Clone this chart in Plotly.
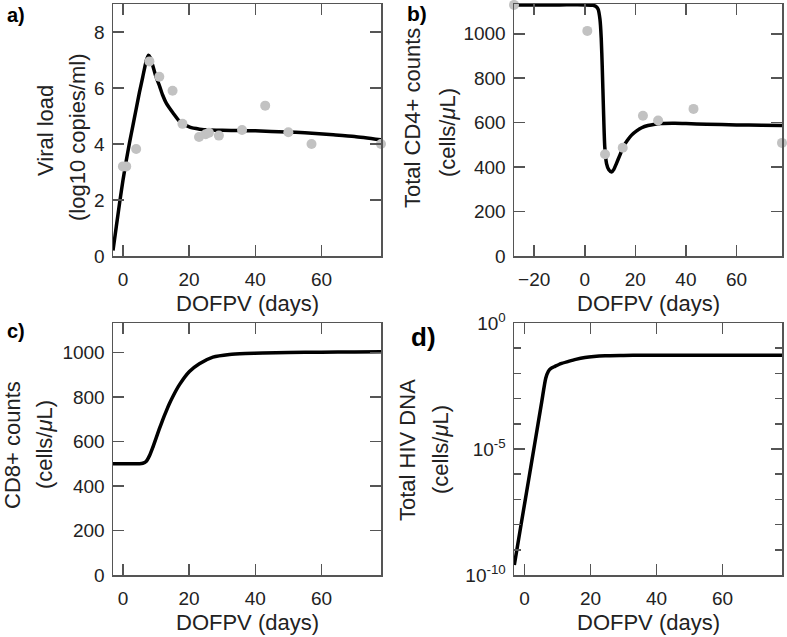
import plotly.graph_objects as go

W, H = 787, 637

# ---------------- data ----------------
# a) viral load (log10 copies/ml)
a_obs_days = [0, 1, 4, 8, 11, 15, 18, 23, 25, 26, 29, 36, 43, 50, 57, 78]
a_obs_vl = [3.2, 3.2, 3.82, 6.95, 6.4, 5.9, 4.72, 4.25, 4.35, 4.4, 4.3, 4.5, 5.37, 4.42, 4.0, 4.0]
a_fit_days = [-3, -2, -1, 0, 1, 2, 3, 4, 5, 6, 7, 7.7, 8.3, 9.1, 10, 11.1, 12, 13.1, 15.2,
              17.2, 20.2, 23.2, 26.2, 30, 35.4, 40, 49.5, 55, 63.6, 70, 78]
a_fit_vl = [0.2, 1.05, 1.9, 2.7, 3.4, 4.05, 4.65, 5.25, 5.85, 6.4, 6.95, 7.17, 7.08, 6.77, 6.4,
            6.06, 5.75, 5.46, 5.1, 4.8, 4.6, 4.53, 4.5, 4.49, 4.48, 4.47, 4.43, 4.4, 4.33, 4.27, 4.15]

# b) total CD4+ counts (cells/uL)
b_obs_days = [-28, 1, 8, 15, 23, 29, 43, 78]
b_obs_cd4 = [1130, 1013, 458, 487, 631, 610, 662, 509]
b_fit_days = [-28, -10, 0, 3.3, 4.5, 5.3, 6.0, 6.5, 6.9, 7.4, 7.9, 8.6, 9.5, 10.6, 11.5, 12.5,
              13.8, 15.2, 16.8, 18.5, 20.5, 22.5, 25, 27.7, 30, 35.6, 40, 48.2, 60, 70, 78]
b_fit_cd4 = [1130, 1130, 1130, 1128, 1122, 1110, 1065, 980, 851, 656, 491, 416, 388, 378, 390,
             416, 452, 491, 520, 544, 563, 577, 587, 593, 596, 597, 596, 593, 590, 588, 587]

# c) CD8+ counts (cells/uL)
c_fit_days = [-3, 0, 5, 6, 7, 8, 9, 10, 11, 12, 13, 14, 15.1, 17.1, 20.1, 23.1, 27.2, 32.2, 37,
              42.3, 50, 60, 70, 78]
c_fit_cd8 = [500, 500, 500, 502, 510, 535, 572, 614, 656, 696, 733, 768, 802, 855, 914, 949,
             979, 991, 995, 997, 999, 1001, 1002, 1003]

# d) total HIV DNA (cells/uL)
d_fit_days = [-3.1, -1, 1.1, 3, 5.2, 6.4, 7.2, 8, 9.2, 11, 13.3, 15.5, 18.3, 21, 24.4, 30,
              35.5, 50, 65, 78]
d_fit_dna = [2.5e-10, 1.1e-8, 4.7e-7, 1.4e-5, 7.4e-4, 6.3e-3, 1.2e-2, 1.58e-2, 1.9e-2,
             2.45e-2, 3.0e-2, 3.6e-2, 4.27e-2, 4.7e-2, 5.0e-2, 5.13e-2, 5.25e-2, 5.25e-2,
             5.25e-2, 5.25e-2]

# tick labels
a_yticks = [0, 2, 4, 6, 8]
ab_xticks_a = [0, 20, 40, 60]
b_xticks = [-20, 0, 20, 40, 60]
cd_yticks = [0, 200, 400, 600, 800, 1000]
d_yticks = [1e-10, 1e-5, 1]
d_yticktext = ["10<sup>-10</sup>", "10<sup>-5</sup>", "10<sup>0</sup>"]
d_minor = [10.0 ** (-k) for k in range(1, 10)]

# ---------------- styling ----------------
FONT = "Liberation Sans, Arial, Helvetica, sans-serif"
TXT = "#222222"
AX = "#555555"
LINE_W = 3.5
DOT = "#c2c2c2"


def px(x):
    return x / W


def py(y):
    return 1 - y / H


fig = go.Figure()

def curve(x, y, xa, ya):
    fig.add_trace(go.Scatter(x=x, y=y, mode="lines", xaxis=xa, yaxis=ya,
                             line=dict(color="black", width=LINE_W, shape="spline", smoothing=0.6),
                             showlegend=False, hoverinfo="skip"))

def dots(x, y, xa, ya):
    fig.add_trace(go.Scatter(x=x, y=y, mode="markers", xaxis=xa, yaxis=ya, cliponaxis=False,
                             marker=dict(color=DOT, size=10, line=dict(width=0)),
                             showlegend=False, hoverinfo="skip"))

curve(a_fit_days, a_fit_vl, "x", "y")
dots(a_obs_days, a_obs_vl, "x", "y")
curve(b_fit_days, b_fit_cd4, "x2", "y2")
dots(b_obs_days, b_obs_cd4, "x2", "y2")
curve(c_fit_days, c_fit_cd8, "x3", "y3")
curve(d_fit_days, d_fit_dna, "x4", "y4")

common = dict(showline=True, linecolor=AX, linewidth=1.5, mirror="ticks", ticks="inside",
              ticklen=11, tickwidth=1.5, tickcolor=AX, showgrid=False, zeroline=False,
              automargin=False,
              tickfont=dict(family=FONT, size=19, color=TXT), tickmode="array")

LX = [px(113), px(381)]
RX = [px(514), px(782)]
TY = [py(256), py(4)]
BY = [py(575), py(323)]

fig.update_layout(
    template="none",
    width=W, height=H, margin=dict(l=0, r=0, t=0, b=0, pad=0, autoexpand=False),
    paper_bgcolor="white", plot_bgcolor="white", showlegend=False,
    xaxis=dict(domain=LX, anchor="y", range=[-3, 78], tickvals=ab_xticks_a, ticklabelstandoff=6, **common),
    yaxis=dict(domain=TY, anchor="x", range=[0, 9], tickvals=a_yticks, ticklabelstandoff=3, **common),
    xaxis2=dict(domain=RX, anchor="y2", range=[-28, 78], tickvals=b_xticks, ticklabelstandoff=6, **common),
    yaxis2=dict(domain=TY, anchor="x2", range=[0, 1134], tickvals=cd_yticks, ticklabelstandoff=3, **common),
    xaxis3=dict(domain=LX, anchor="y3", range=[-3, 78], tickvals=ab_xticks_a, ticklabelstandoff=6, **common),
    yaxis3=dict(domain=BY, anchor="x3", range=[0, 1132], tickvals=cd_yticks, ticklabelstandoff=3, **common),
    xaxis4=dict(domain=RX, anchor="y4", range=[-3.2, 78], tickvals=ab_xticks_a, ticklabelstandoff=6, **common),
    yaxis4=dict(domain=BY, anchor="x4", type="log", range=[-10, 0], tickvals=d_yticks,
                ticktext=d_yticktext, ticklabelstandoff=3,
                minor=dict(tickmode="array", tickvals=d_minor, ticks="inside", ticklen=7,
                           tickwidth=1.5, tickcolor=AX, showgrid=False),
                **common),
)

anns = []

def text(s, x, y, size, angle=0, bold=False):
    anns.append(dict(text=("<b>%s</b>" % s) if bold else s, x=px(x), y=py(y), xref="paper", yref="paper",
                     xanchor="center", yanchor="middle", showarrow=False, textangle=angle,
                     font=dict(family=FONT, size=size, color=TXT if not bold else "black")))

TS = 22
# x titles
for cx, cy in [(247, 303), (648, 303), (247, 622), (648, 622)]:
    text("DOFPV (days)", cx, cy, TS)
# y titles (two lines each)
text("Viral load", 45, 131, TS, -90)
text("(log10 copies/ml)", 78, 137, TS, -90)
text("Total CD4+ counts", 412, 118, TS, -90)
text("(cells/<i>μ</i>L)", 447, 132, TS, -90)
text("CD8+ counts", 12, 445, TS, -90)
text("(cells/<i>μ</i>L)", 44, 445, TS, -90)
text("Total HIV DNA", 407, 450, TS, -90)
text("(cells/<i>μ</i>L)", 440, 450, TS, -90)
# panel labels
text("a)", 16, 15, 20, bold=True)
text("b)", 417, 13, 21, bold=True)
text("c)", 16, 331, 20, bold=True)
text("d)", 423, 337, 26, bold=True)

fig.update_layout(annotations=anns)
fig.write_html("out.html", config={"displayModeBar": False, "staticPlot": True},
               post_script="document.body.style.margin='0px';document.documentElement.style.overflow='hidden';")
